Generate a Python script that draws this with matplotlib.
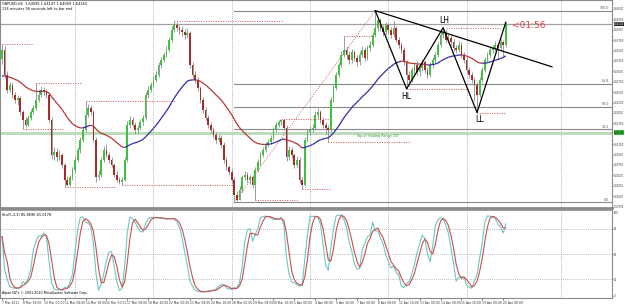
import numpy as np
import pandas as pd
import matplotlib
matplotlib.use('Agg')
import matplotlib.pyplot as plt
import matplotlib.transforms as mtransforms
from matplotlib.collections import LineCollection

# === GBPUSD H4 bars, first bar 7 Mar 2011 08:00 ===
close = [1.6352, 1.6292, 1.6256, 1.6268, 1.6244, 1.6232, 1.6237, 1.6203, 1.6184, 1.6172,
         1.6189, 1.6203, 1.6213, 1.6232, 1.6244, 1.6256, 1.6251, 1.6244, 1.6184, 1.6100,
         1.6107, 1.6093, 1.6100, 1.6076, 1.6040, 1.6028, 1.6045, 1.6064, 1.6088, 1.6112,
         1.6136, 1.6160, 1.6196, 1.6213, 1.6203, 1.6136, 1.6045, 1.6052, 1.6088, 1.6112,
         1.6100, 1.6088, 1.6076, 1.6052, 1.6040, 1.6033, 1.6040, 1.6088, 1.6172, 1.6184,
         1.6172, 1.6160, 1.6165, 1.6179, 1.6189, 1.6244, 1.6256, 1.6268, 1.6280, 1.6292,
         1.6316, 1.6328, 1.6340, 1.6352, 1.6376, 1.6400, 1.6412, 1.6405, 1.6400, 1.6395,
         1.6388, 1.6393, 1.6316, 1.6292, 1.6280, 1.6261, 1.6232, 1.6208, 1.6189, 1.6172,
         1.6160, 1.6148, 1.6136, 1.6141, 1.6124, 1.6088, 1.6069, 1.6059, 1.6040, 1.6004,
         1.5992, 1.6016, 1.6045, 1.6052, 1.6040, 1.6045, 1.6028, 1.6064, 1.6083, 1.6100,
         1.6112, 1.6124, 1.6131, 1.6141, 1.6160, 1.6172, 1.6179, 1.6184, 1.6165, 1.6093,
         1.6112, 1.6100, 1.6076, 1.6088, 1.6040, 1.6028, 1.6136, 1.6155, 1.6160, 1.6165,
         1.6196, 1.6203, 1.6184, 1.6172, 1.6165, 1.6160, 1.6232, 1.6261, 1.6292, 1.6316,
         1.6340, 1.6352, 1.6340, 1.6328, 1.6347, 1.6333, 1.6323, 1.6340, 1.6352, 1.6333,
         1.6357, 1.6364, 1.6388, 1.6405, 1.6424, 1.6405, 1.6395, 1.6412, 1.6400, 1.6388,
         1.6405, 1.6376, 1.6364, 1.6352, 1.6323, 1.6292, 1.6280, 1.6304, 1.6316, 1.6299,
         1.6309, 1.6323, 1.6304, 1.6292, 1.6316, 1.6328, 1.6340, 1.6364, 1.6388, 1.6395,
         1.6376, 1.6381, 1.6371, 1.6357, 1.6352, 1.6364, 1.6340, 1.6328, 1.6304, 1.6292,
         1.6280, 1.6268, 1.6244, 1.6280, 1.6304, 1.6328, 1.6340, 1.6352, 1.6357, 1.6364,
         1.6357, 1.6370, 1.6364, 1.6414]
high = [1.6366, 1.6360, 1.6300, 1.6275, 1.6272, 1.6250, 1.6243, 1.6240, 1.6208, 1.6190,
        1.6195, 1.6210, 1.6220, 1.6273, 1.6255, 1.6264, 1.6262, 1.6258, 1.6250, 1.6190,
        1.6118, 1.6115, 1.6110, 1.6105, 1.6080, 1.6048, 1.6052, 1.6070, 1.6094, 1.6118,
        1.6142, 1.6168, 1.6230, 1.6222, 1.6220, 1.6208, 1.6142, 1.6062, 1.6095, 1.6120,
        1.6125, 1.6106, 1.6095, 1.6080, 1.6060, 1.6046, 1.6047, 1.6095, 1.6180, 1.6192,
        1.6190, 1.6178, 1.6172, 1.6185, 1.6196, 1.6250, 1.6264, 1.6275, 1.6288, 1.6300,
        1.6322, 1.6335, 1.6347, 1.6360, 1.6382, 1.6408, 1.6422, 1.6418, 1.6412, 1.6408,
        1.6402, 1.6404, 1.6398, 1.6322, 1.6300, 1.6286, 1.6266, 1.6238, 1.6214, 1.6195,
        1.6178, 1.6166, 1.6154, 1.6150, 1.6146, 1.6130, 1.6094, 1.6076, 1.6065, 1.6046,
        1.6012, 1.6024, 1.6052, 1.6060, 1.6058, 1.6052, 1.6050, 1.6070, 1.6090, 1.6106,
        1.6118, 1.6130, 1.6138, 1.6148, 1.6166, 1.6178, 1.6184, 1.6186, 1.6186, 1.6170,
        1.6120, 1.6118, 1.6105, 1.6096, 1.6094, 1.6046, 1.6142, 1.6162, 1.6168, 1.6174,
        1.6204, 1.6213, 1.6208, 1.6190, 1.6178, 1.6170, 1.6238, 1.6268, 1.6298, 1.6322,
        1.6348, 1.6386, 1.6360, 1.6348, 1.6355, 1.6352, 1.6340, 1.6348, 1.6360, 1.6358,
        1.6364, 1.6372, 1.6394, 1.6446, 1.6430, 1.6428, 1.6412, 1.6418, 1.6416, 1.6406,
        1.6420, 1.6410, 1.6382, 1.6370, 1.6358, 1.6328, 1.6300, 1.6310, 1.6322, 1.6324,
        1.6316, 1.6330, 1.6328, 1.6310, 1.6322, 1.6334, 1.6346, 1.6370, 1.6394, 1.6405,
        1.6400, 1.6390, 1.6388, 1.6378, 1.6364, 1.6372, 1.6370, 1.6346, 1.6334, 1.6310,
        1.6298, 1.6286, 1.6274, 1.6286, 1.6310, 1.6334, 1.6346, 1.6360, 1.6364, 1.6372,
        1.6370, 1.6378, 1.6376, 1.6418]
low = [1.6318, 1.6285, 1.6248, 1.6250, 1.6236, 1.6225, 1.6220, 1.6195, 1.6162, 1.6166,
       1.6168, 1.6182, 1.6198, 1.6208, 1.6226, 1.6238, 1.6242, 1.6236, 1.6178, 1.6090,
       1.6088, 1.6085, 1.6086, 1.6068, 1.6023, 1.6024, 1.6025, 1.6040, 1.6058, 1.6082,
       1.6105, 1.6130, 1.6155, 1.6190, 1.6196, 1.6130, 1.6035, 1.6038, 1.6047, 1.6082,
       1.6094, 1.6080, 1.6070, 1.6045, 1.6034, 1.6030, 1.6028, 1.6036, 1.6082, 1.6164,
       1.6166, 1.6150, 1.6152, 1.6160, 1.6172, 1.6184, 1.6236, 1.6250, 1.6262, 1.6274,
       1.6286, 1.6308, 1.6322, 1.6334, 1.6346, 1.6370, 1.6394, 1.6396, 1.6390, 1.6386,
       1.6378, 1.6380, 1.6308, 1.6284, 1.6272, 1.6254, 1.6225, 1.6200, 1.6182, 1.6165,
       1.6152, 1.6140, 1.6128, 1.6130, 1.6116, 1.6080, 1.6062, 1.6050, 1.6032, 1.5985,
       1.5988, 1.5990, 1.6010, 1.6038, 1.6032, 1.6030, 1.6020, 1.5992, 1.6058, 1.6076,
       1.6094, 1.6106, 1.6118, 1.6125, 1.6135, 1.6154, 1.6166, 1.6172, 1.6158, 1.6085,
       1.6088, 1.6092, 1.6068, 1.6070, 1.6032, 1.6018, 1.6024, 1.6130, 1.6148, 1.6154,
       1.6160, 1.6188, 1.6176, 1.6165, 1.6150, 1.6131, 1.6155, 1.6226, 1.6255, 1.6286,
       1.6310, 1.6334, 1.6330, 1.6318, 1.6320, 1.6325, 1.6314, 1.6316, 1.6334, 1.6326,
       1.6328, 1.6350, 1.6358, 1.6382, 1.6398, 1.6396, 1.6386, 1.6388, 1.6392, 1.6380,
       1.6382, 1.6370, 1.6356, 1.6344, 1.6315, 1.6258, 1.6266, 1.6274, 1.6296, 1.6292,
       1.6290, 1.6300, 1.6296, 1.6284, 1.6286, 1.6308, 1.6320, 1.6334, 1.6358, 1.6380,
       1.6368, 1.6368, 1.6362, 1.6350, 1.6344, 1.6346, 1.6332, 1.6320, 1.6296, 1.6284,
       1.6272, 1.6230, 1.6201, 1.6238, 1.6274, 1.6298, 1.6320, 1.6334, 1.6344, 1.6350,
       1.6330, 1.6350, 1.6335, 1.6358]
open_first = 1.6330
opens = [open_first] + close[:-1]

ma_seed = 1.6285
ma_period = 34

date_labels = ['7 Mar 2011', '8 Mar 16:00', '10 Mar 00:00', '11 Mar 08:00', '14 Mar 16:00',
               '16 Mar 00:00', '17 Mar 08:00', '18 Mar 16:00', '22 Mar 00:00', '23 Mar 08:00',
               '24 Mar 16:00', '28 Mar 00:00', '29 Mar 08:00', '30 Mar 16:00', '1 Apr 00:00',
               '4 Apr 08:00', '5 Apr 16:00', '7 Apr 00:00', '8 Apr 08:00', '11 Apr 16:00',
               '13 Apr 00:00', '14 Apr 08:00', '15 Apr 16:00', '19 Apr 00:00', '20 Apr 08:00']
week_starts = [28, 58, 88, 118, 148, 178, 214]

# === drawn objects ===
fib_start, fib_low, fib_high = 89, 1.5985, 1.6446
fib_top_bar = 143
fib_levels = [0.0, 38.2, 50.0, 61.8, 100.0]
bid = 1.6414
range_top = 1.6153
zz_bar = [143, 155, 169, 182, 193]
zz_price = [1.6446, 1.6258, 1.6405, 1.6201, 1.6418]
trend_bar = [143, 210.7]
trend_price = [1.6446, 1.6311]
frac_price = [1.6366, 1.6273, 1.6162, 1.6023, 1.6230, 1.6028, 1.6422, 1.5992,
              1.6186, 1.6018, 1.6131, 1.6386, 1.6405, 1.6258, 1.6201]
frac_start = [0, 13, 8, 24, 32, 46, 66, 97, 107, 115, 125, 131, 170, 155, 182]
frac_end = [11.9, 30.7, 23.4, 43.3, 66.3, 88.5, 107.3, 113.4, 125.7, 125.7, 156.3, 142.1, 190.8, 179.3, 192.7]

# === derived indicators ===
n = len(close)
x = np.arange(n)
alpha = 2.0 / (ma_period + 1)
ma = []
prev = ma_seed
for c in close:
    prev = prev + alpha * (c - prev)
    ma.append(prev)
ma = np.array(ma)

s_h, s_l, s_c = pd.Series(high), pd.Series(low), pd.Series(close)
hh = s_h.rolling(5, min_periods=1).max()
ll = s_l.rolling(5, min_periods=1).min()
k_line = 100 * (s_c - ll).rolling(3, min_periods=1).sum() / (hh - ll).rolling(3, min_periods=1).sum()
d_line = k_line.rolling(3, min_periods=1).mean()

# === figure ===
W, H = 625, 304
fig = plt.figure(figsize=(W / 100, H / 100), dpi=100)
fig.patch.set_facecolor('white')
ax = fig.add_axes([0, 1 - 208 / H, 612 / W, 208 / H])
axs = fig.add_axes([0, 1 - 298 / H, 612 / W, 88 / H])

xl = (-0.77, 233.7)
for a in (ax, axs):
    a.set_xlim(*xl)
    for sp in a.spines.values():
        sp.set_color('#8a8a8a')
        sp.set_linewidth(0.8)
    for wb in week_starts:
        a.axvline(wb, color='#9a9a9a', lw=0.6, ls=(0, (1, 1.5)), zorder=0)
ax.spines['bottom'].set_linewidth(2.0)
axs.spines['top'].set_linewidth(1.2)

ax.set_ylim(1.59716, 1.64716)

# candles
GREEN, RED = '#3fc23f', '#a82a2a'
for i in range(n):
    up = close[i] >= opens[i]
    ax.vlines(i, low[i], high[i], color='#8c8c8c', lw=0.6, zorder=2)
    lo, hi = min(opens[i], close[i]), max(opens[i], close[i])
    if hi - lo < 0.00008:
        hi = lo + 0.00008
    ax.add_patch(plt.Rectangle((i - 0.33, lo), 0.66, hi - lo, facecolor=GREEN if up else RED,
                               edgecolor='none', zorder=3))

# moving average coloured by slope
segs = [[(i - 1, ma[i - 1]), (i, ma[i])] for i in range(1, n)]
cols = ['#2a2aa8' if ma[i] >= ma[i - 1] else '#b83030' for i in range(1, n)]
ax.add_collection(LineCollection(segs, colors=cols, linewidths=0.9, zorder=4))

# bid line and trading range line
ax.axhline(bid, color='#a0a0a0', lw=0.9, zorder=1)
ax.axhline(range_top, color='#bcdcbc', lw=2.2, zorder=1)
ax.text(136, range_top - 0.0003, 'Top of Trading Range 2/X', color='#2e9a2e', fontsize=2.4,
        ha='left', va='top')

# fibonacci
for lv in fib_levels:
    p = fib_low + (fib_high - fib_low) * lv / 100
    ax.plot([fib_start, xl[1]], [p, p], color='#8a8a8a', lw=0.8, zorder=1)
    ax.text(232.6, p + 0.0001, f'{lv:.1f}', fontsize=2.3, color='#555555', ha='right', va='bottom')
ax.plot([fib_start, fib_top_bar], [fib_low, fib_high], color='#d06060', lw=0.7, ls=(0, (1, 1.5)), zorder=1)

# fractal levels
for p, s, e in zip(frac_price, frac_start, frac_end):
    ax.plot([s, e], [p, p], color='#d05050', lw=0.7, ls=(0, (1, 1.5)), zorder=1)

# zigzag and trendline
ax.plot(zz_bar, zz_price, color='black', lw=0.9, zorder=5)
ax.plot(trend_bar, trend_price, color='black', lw=0.9, zorder=5)
ax.text(155.0, 1.6239, 'HL', fontsize=5.5, ha='center', va='center')
ax.text(169.5, 1.6423, 'LH', fontsize=5.5, ha='center', va='center')
ax.text(183.0, 1.6184, 'LL', fontsize=5.5, ha='center', va='center')
ax.text(195.2, 1.6410, '<01:56', fontsize=6.5, color='#e04040', ha='left', va='center')

# header texts
ax.text(0.004, 0.99, 'GBPUSD,H4  1.64095 1.64147 1.64069 1.64140', transform=ax.transAxes,
        fontsize=2.5, va='top', ha='left')
ax.text(0.004, 0.965, '116 minutes 56 seconds left to bar end', transform=ax.transAxes,
        fontsize=2.5, va='top', ha='left')

# right price scale (the 1.61500 slot is covered by the green line label)
yt = [v for v in np.arange(1.5975, 1.6451, 0.0025) if abs(v - range_top) > 0.001]
ax.yaxis.tick_right()
ax.set_yticks(yt)
ax.set_yticklabels([f'{v:.5f}' for v in yt])
ax.tick_params(axis='y', labelsize=1.85, length=1.0, width=0.5, pad=0.3, colors='#333333')
ax.set_xticks([])
trans = mtransforms.blended_transform_factory(ax.transAxes, ax.transData)
ax.text(1.003, bid, f'{bid:.5f}', transform=trans, fontsize=1.85, color='white', va='center',
        ha='left', bbox=dict(boxstyle='square,pad=0.1', fc='#222222', ec='none'))
ax.text(1.003, range_top, f'{range_top:.5f}', transform=trans, fontsize=1.85, color='black',
        va='center', ha='left', bbox=dict(boxstyle='square,pad=0.1', fc='#3cb83c', ec='none'))

# stochastic panel
axs.set_ylim(-2.4, 102.4)
for lvl in (20, 50, 80):
    axs.axhline(lvl, color='#a8a8a8', lw=0.6, ls=(0, (1, 1.5)), zorder=0)
axs.plot(x, k_line, color='#6cc8c2', lw=0.8)
axs.plot(x, d_line, color='#c85050', lw=0.8)
axs.yaxis.tick_right()
axs.set_yticks([0, 20, 50, 80, 100])
axs.set_yticklabels(['0', '20', '50', '80', '100'])
axs.tick_params(axis='y', labelsize=1.85, length=1.0, width=0.5, pad=0.3, colors='#333333')
axs.set_xticks(np.arange(0, 8 * len(date_labels), 8))
axs.set_xticklabels(date_labels)
axs.tick_params(axis='x', labelsize=2.2, length=1.5, width=0.5, pad=0.6, colors='#333333')
for t in axs.get_xticklabels():
    t.set_ha('left')
axs.text(0.004, 0.97, f'Sto(5,3,3) {k_line.iloc[-1]:.4f} {d_line.iloc[-1]:.4f}',
         transform=axs.transAxes, fontsize=2.5, va='top', ha='left')
axs.text(0.004, 0.03, 'Alpari NZ\'s \u00a9 2001-2010 MetaQuotes Software Corp.',
         transform=axs.transAxes, fontsize=2.3, va='bottom', ha='left')

fig.savefig('out.png', dpi=100, facecolor='white')
